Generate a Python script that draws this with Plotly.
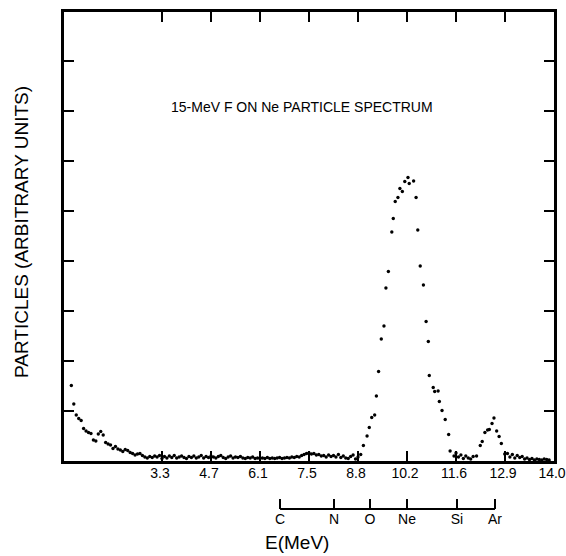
import plotly.graph_objects as go

# ---- data (x in analyser channels, 20 channels per energy tick; y in arbitrary units) ----
low_channels = list(range(3, 121))
low_counts = [
    1.51, 1.14, 0.92, 0.85, 0.81, 0.65, 0.60, 0.57, 0.55, 0.42,
    0.40, 0.54, 0.59, 0.52, 0.37, 0.34, 0.32, 0.25, 0.29, 0.24,
    0.22, 0.19, 0.23, 0.21, 0.17, 0.15, 0.12, 0.14, 0.15, 0.11,
    0.08, 0.06, 0.09, 0.07, 0.10, 0.08, 0.11,
    0.05, 0.09, 0.06, 0.10, 0.07, 0.11, 0.06, 0.08, 0.10, 0.07,
    0.05, 0.09, 0.07, 0.10, 0.06, 0.08, 0.11, 0.06, 0.09, 0.07,
    0.10, 0.08, 0.06, 0.09, 0.11, 0.07, 0.05, 0.08, 0.10, 0.06,
    0.08, 0.07, 0.09, 0.06, 0.05, 0.07, 0.06, 0.08, 0.05, 0.06,
    0.05, 0.06, 0.05, 0.07, 0.05, 0.06, 0.05, 0.06, 0.07, 0.05,
    0.06, 0.07, 0.06, 0.08, 0.07, 0.09, 0.08, 0.11, 0.13, 0.15,
    0.16, 0.14, 0.15, 0.12, 0.13, 0.10, 0.11, 0.08, 0.12, 0.09,
    0.11, 0.08, 0.13, 0.07, 0.10, 0.06, 0.05, 0.09, 0.12, 0.04,
    0.08,
]

ne_channels = [121.1, 122.2, 123.7, 124.6, 125.6, 126.8, 127.5, 128.4, 129.5, 130.6,
               131.4, 132.4, 133.8, 134.4, 135.2, 136.3, 137.1, 138.1, 139.1, 140.4,
               140.9, 142.7, 143.7, 144.4, 145.4, 146.7, 147.8, 148.7, 149.1, 150.7,
               151.3, 152.7, 153.2, 154.3, 155.6, 157.0, 157.6, 159.2]
ne_counts = [0.13, 0.31, 0.50, 0.67, 0.87, 0.92, 1.30, 1.79, 2.44, 2.70,
             3.46, 3.79, 4.58, 4.85, 5.19, 5.27, 5.45, 5.39, 5.59, 5.67,
             5.55, 5.60, 5.27, 4.62, 3.90, 3.52, 2.79, 2.39, 1.71, 1.47,
             1.39, 1.40, 1.19, 1.01, 0.83, 0.53, 0.20, 0.10]

mid_channels = [160, 161, 162, 163, 164, 165, 166, 167]
mid_counts = [0.16, 0.08, 0.12, 0.05, 0.10, 0.06, 0.04, 0.09]

ar_channels = [168.4, 169.9, 170.7, 171.8, 172.9, 173.6, 174.7, 175.5, 176.6, 177.6, 178.5, 179.9]
ar_counts = [0.10, 0.31, 0.39, 0.57, 0.62, 0.63, 0.75, 0.86, 0.60, 0.49, 0.35, 0.14]

high_channels = list(range(181, 199))
high_counts = [0.15, 0.08, 0.13, 0.06, 0.11, 0.07, 0.09, 0.04, 0.06, 0.03,
               0.05, 0.02, 0.04, 0.03, 0.02, 0.04, 0.03, 0.02]

energy_tick_channels = [40, 60, 80, 100, 120, 140, 160, 180, 200]
energy_tick_labels = ["3.3", "4.7", "6.1", "7.5", "8.8", "10.2", "11.6", "12.9", "14.0"]

element_names = ["C", "N", "O", "Ne", "Si", "Ar"]
element_channels = [88.2, 110.2, 124.9, 140.0, 160.4, 175.9]

y_ticks = [1, 2, 3, 4, 5, 6, 7, 8]

title_text = "15-MeV F ON Ne PARTICLE SPECTRUM"
y_title = "PARTICLES (ARBITRARY UNITS)"
x_title = "E(MeV)"

# ---- figure ----
xs = low_channels + ne_channels + mid_channels + ar_channels + high_channels
ys = low_counts + ne_counts + mid_counts + ar_counts + high_counts

FONT = "Liberation Sans"
W, H = 566, 556
ML, MR, MT, MB = 64, 12, 12, 20
paper_w = W - ML - MR
paper_h = H - MT - MB
plot_bottom_px = 461
ydom0 = (H - MB - plot_bottom_px) / paper_h
elem_line_px = 509
elem_pos = (H - MB - elem_line_px) / paper_h

fig = go.Figure()
fig.add_trace(go.Scatter(
    x=xs, y=ys, mode="markers",
    marker=dict(color="black", size=3.4, line=dict(width=0)),
    showlegend=False, hoverinfo="skip",
))
# invisible trace to activate the element axis
fig.add_trace(go.Scatter(x=[element_channels[0]], y=[0], xaxis="x2", yaxis="y",
                         mode="markers", marker=dict(opacity=0), showlegend=False,
                         hoverinfo="skip"))

axis_common = dict(showgrid=False, zeroline=False, showline=True, linecolor="black",
                   linewidth=3, mirror="ticks", ticks="inside", ticklen=10,
                   tickwidth=1.5, tickcolor="black", automargin=False)

fig.update_layout(
    width=W, height=H,
    margin=dict(l=ML, r=MR, t=MT, b=MB, autoexpand=False),
    paper_bgcolor="white", plot_bgcolor="white",
    font=dict(family=FONT, color="black"),
    xaxis=dict(range=[0, 200], domain=[0, 1], tickmode="array",
               tickvals=energy_tick_channels, ticktext=energy_tick_labels,
               tickfont=dict(size=14, family=FONT, color="black"),
               ticklabeloverflow="allow", ticklabelshift=-2, ticklabelstandoff=-3,
               **axis_common),
    yaxis=dict(range=[0, 8.98], domain=[ydom0, 1], tickmode="array",
               tickvals=y_ticks, showticklabels=False, **axis_common),
    xaxis2=dict(range=[0, 200], domain=[0, 1], overlaying="x", anchor="free",
                position=elem_pos, side="bottom", showline=False, showgrid=False,
                zeroline=False, tickmode="array", tickvals=element_channels,
                ticktext=element_names, ticks="inside", ticklen=10, tickwidth=1.5,
                tickcolor="black", automargin=False,
                tickfont=dict(size=14, family=FONT, color="black")),
)

fig.add_shape(type="line", xref="x", yref="paper",
              x0=element_channels[0], x1=element_channels[-1],
              y0=elem_pos, y1=elem_pos, line=dict(color="black", width=2))

ann = dict(xref="paper", yref="paper", showarrow=False, xanchor="center", yanchor="middle")
fig.add_annotation(text=title_text, x=(302 - ML) / paper_w, y=(H - MB - 107) / paper_h,
                   font=dict(size=14, family=FONT, color="black"), **ann)
fig.add_annotation(text=y_title, textangle=-90, x=(21 - ML) / paper_w, y=(H - MB - 232) / paper_h,
                   font=dict(size=19, family=FONT, color="black"), **ann)
fig.add_annotation(text=x_title, x=(297 - ML) / paper_w, y=(H - MB - 542) / paper_h,
                   font=dict(size=19, family=FONT, color="black"), **ann)

fig.write_html("out.html")
